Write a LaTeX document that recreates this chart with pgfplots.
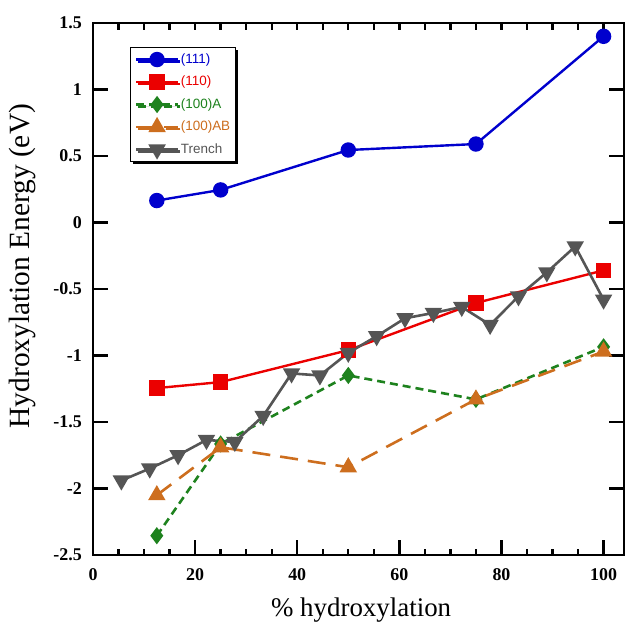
\documentclass[border=0pt]{standalone}
\usepackage{fontspec}
\setmainfont{Liberation Serif}
\newfontfamily\legfont{Liberation Sans}
\usepackage{pgfplots}
\pgfplotsset{compat=1.18}
\usetikzlibrary{shadows}

\definecolor{c111}{RGB}{0,0,205}
\definecolor{c110}{RGB}{235,0,0}
\definecolor{c100a}{RGB}{30,130,30}
\definecolor{c100ab}{RGB}{205,110,30}
\definecolor{ctrench}{RGB}{85,85,85}

\begin{document}
\begin{tikzpicture}
\useasboundingbox (0,0) rectangle (626bp,622bp);

\pgfplotsset{
    hydrox/.style={
        at={(93bp,67bp)}, anchor=south west,
        scale only axis,
        width=531bp, height=532bp,
        xmin=0, xmax=104, ymin=-2.5, ymax=1.5,
        axis line style={line width=2.6bp},
        tick style={line width=2.4bp, black},
        tick align=inside,
    }
}

% top edge: short ticks every 5
\begin{axis}[
    hydrox,
    axis line style={draw=none},
    xtick={0,5,...,100}, xtick pos=top, xticklabels={},
    major tick length=7bp,
    ytick=\empty,
]
\end{axis}

\begin{axis}[
    hydrox,
    xtick={0,20,...,100}, minor x tick num=3,
    xtick pos=bottom, ytick pos=both,
    ytick={-2.5,-2,...,1.5},
    major tick length=15bp, minor tick length=6bp,
    /pgf/number format/assume math mode=true,
    ticklabel style={font=\fontsize{18}{18}\selectfont\bfseries},
    yticklabel style={inner sep=0pt, xshift=-11bp},
    xticklabel style={inner sep=0pt, yshift=-13bp},
    yticklabel={\pgfmathprintnumber[fixed, precision=1]{\tick}},
    xlabel={\% hydroxylation},
    ylabel={Hydroxylation Energy (eV)},
    xlabel style={font=\fontsize{27}{27}\selectfont, at={(axis description cs:0.505,-0.115)}, anchor=base},
    ylabel style={font=\fontsize{29.5}{29.5}\selectfont, at={(axis description cs:-0.132,0.543)}, anchor=center},
    legend cell align=left,
    legend style={
        at={(axis description cs:0.07,0.955)}, anchor=north west,
        font=\fontsize{13.5}{13.5}\legfont,
        draw=black, line width=1.2bp, fill=white,
        drop shadow={shadow xshift=2bp, shadow yshift=-2bp, fill=black, opacity=1},
        inner xsep=4bp, inner ysep=4bp,
        row sep=6.5bp,
        nodes={inner sep=1.5bp, text height=10bp, text depth=3bp},
    },
    legend image code/.code={
        \draw[mark repeat=2, mark phase=2] plot coordinates {(0bp,0bp) (21bp,0bp) (42bp,0bp)};
    },
]

\addplot[color=c111, line width=2.4bp, mark=*, mark size=6.5bp, mark options={solid}]
    coordinates {(12.5,0.165) (25,0.245) (50,0.545) (75,0.59) (100,1.40)};
\addlegendentry{\textcolor{c111}{(111)}}

\addplot[color=c110, line width=2.4bp, mark=square*, mark size=6.5bp, mark options={solid}]
    coordinates {(12.5,-1.245) (25,-1.20) (50,-0.96) (75,-0.605) (100,-0.36)};
\addlegendentry{\textcolor{c110}{(110)}}

\addplot[color=c100a, line width=2.6bp, dash pattern=on 8bp off 5bp, mark=diamond*, mark size=6.5bp, mark options={solid}]
    coordinates {(12.5,-2.355) (25,-1.665) (50,-1.15) (75,-1.33) (100,-0.935)};
\addlegendentry{\textcolor{c100a}{(100)A}}

\addplot[color=c100ab, line width=2.6bp, dash pattern=on 18bp off 10bp, mark=triangle*, mark size=7.5bp, mark options={solid}]
    coordinates {(12.5,-2.05) (25,-1.69) (50,-1.84) (75,-1.33) (100,-0.97)};
\addlegendentry{\textcolor{c100ab}{(100)AB}}

\addplot[color=ctrench, line width=2.6bp, mark=triangle*, mark size=7.5bp, mark options={solid, rotate=180}]
    coordinates {
        (5.556,-1.94) (11.111,-1.85) (16.667,-1.75) (22.222,-1.635) (27.778,-1.65)
        (33.333,-1.455) (38.889,-1.135) (44.444,-1.15) (50,-0.98) (55.556,-0.855)
        (61.111,-0.72) (66.667,-0.68) (72.222,-0.635) (77.778,-0.77) (83.333,-0.555)
        (88.889,-0.375) (94.444,-0.18) (100,-0.58)
    };
\addlegendentry{\textcolor{ctrench}{Trench}}

\end{axis}
\end{tikzpicture}
\end{document}
